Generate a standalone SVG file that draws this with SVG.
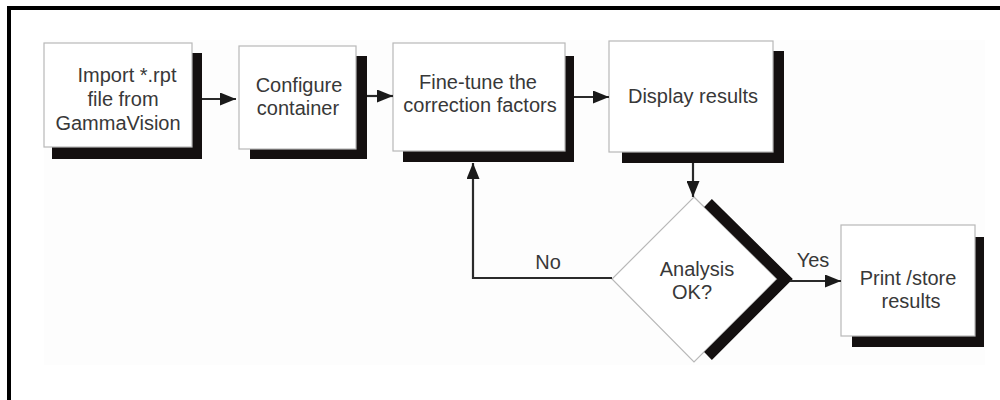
<svg xmlns="http://www.w3.org/2000/svg" width="1000" height="400" viewBox="0 0 1000 400">
<style>
.box{fill:#fff;stroke:#b8b8b8;stroke-width:1.2}
.sh{fill:#141010}
.t{font-family:"Liberation Sans",Arial,sans-serif;font-size:20px;fill:#383838;text-anchor:middle}
.c{fill:none;stroke:#2a2a2a;stroke-width:2.2}
</style>
<defs>
<marker id="ah" markerUnits="userSpaceOnUse" markerWidth="16" markerHeight="13" viewBox="0 0 16 13" refX="16" refY="6.5" orient="auto">
<path d="M0,0 L16,6.5 L0,13 z" fill="#1a1a1a"/>
</marker>
</defs>
<rect x="0" y="0" width="1000" height="400" fill="#fff"/>
<rect x="44" y="40" width="941" height="325" fill="#fdfdfd"/>
<g id="frame">
<rect x="7" y="6" width="993" height="4" fill="#000"/>
<rect x="7" y="6" width="4" height="394" fill="#000"/>
</g>
<g id="n1">
<rect class="sh" x="52" y="53" width="150" height="106"/>
<rect class="box" x="44" y="43" width="148" height="104"/>
<text class="t" x="127" y="82">Import *.rpt</text>
<text class="t" x="123" y="106">file from</text>
<text class="t" x="118" y="130">GammaVision</text>
</g>
<g id="n2">
<rect class="sh" x="250" y="56" width="117" height="103"/>
<rect class="box" x="239" y="46" width="117" height="103"/>
<text class="t" x="299" y="92">Configure</text>
<text class="t" x="298" y="115">container</text>
</g>
<g id="n3">
<rect class="sh" x="403" y="56" width="171" height="106"/>
<rect class="box" x="393" y="43" width="172" height="108"/>
<text class="t" x="478" y="89">Fine-tune the</text>
<text class="t" x="480" y="112">correction factors</text>
</g>
<g id="n4">
<rect class="sh" x="622" y="51" width="162" height="112"/>
<rect class="box" x="609" y="41" width="164" height="111"/>
<text class="t" x="693" y="103">Display results</text>
</g>
<g id="n5">
<polygon class="box" points="694,197 777,279 694,362 612,279"/>
<polyline points="708,203 785,279 708,356" fill="none" stroke="#141010" stroke-width="11" stroke-linejoin="miter"/>
<text class="t" x="697" y="276">Analysis</text>
<text class="t" x="692" y="299">OK?</text>
</g>
<g id="n6">
<rect class="sh" x="852" y="237" width="132" height="110"/>
<rect class="box" x="841" y="225" width="134" height="111"/>
<text class="t" x="908" y="285">Print /store</text>
<text class="t" x="911" y="308">results</text>
</g>
<g id="connectors">
<path class="c" d="M202,99 H236" marker-end="url(#ah)"/>
<path class="c" d="M367,96 H393" marker-end="url(#ah)"/>
<path class="c" d="M574,97 H609" marker-end="url(#ah)"/>
<path class="c" d="M693,163 V197" marker-end="url(#ah)"/>
<path class="c" d="M612,278 H473 V163" marker-end="url(#ah)"/>
<path class="c" d="M790,281 H841" marker-end="url(#ah)"/>
<text class="t" x="548" y="269">No</text>
<text class="t" x="813" y="267">Yes</text>
</g>
</svg>
